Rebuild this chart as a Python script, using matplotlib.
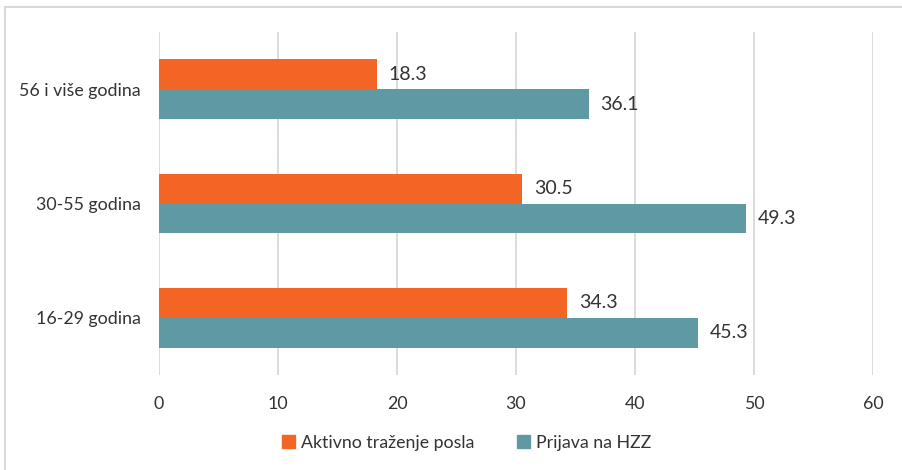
import numpy as np
import matplotlib.pyplot as plt
from matplotlib.lines import Line2D
from matplotlib.patches import Patch

plt.rcParams['font.family'] = ['Lato', 'DejaVu Sans']

# Data
categories = ['16-29 godina', '30-55 godina', '56 i više godina']
aktivno = [34.3, 30.5, 18.3]
prijava = [45.3, 49.3, 36.1]
series_names = ['Aktivno traženje posla', 'Prijava na HZZ']

c_orange = '#F26524'
c_teal = '#5F9AA4'
txt = '#333333'

fig = plt.figure(figsize=(9.03, 4.70), dpi=100)
ax = fig.add_axes([0.176, 0.202, 0.7908, 0.730])

y = np.arange(len(categories))
h = 0.262
b1 = ax.barh(y + h / 2, aktivno, height=h, color=c_orange, zorder=3)
b2 = ax.barh(y - h / 2, prijava, height=h, color=c_teal, zorder=3)

for bars, vals in ((b1, aktivno), (b2, prijava)):
    for bar, v in zip(bars, vals):
        ax.text(v + 1.0, bar.get_y() + bar.get_height() / 2, f'{v:.1f}',
                va='center', ha='left', fontsize=14, color=txt)

ax.set_xlim(0, 60)
ax.set_ylim(-0.5, 2.5)
ax.set_xticks(np.arange(0, 61, 10))
ax.set_yticks(y)
ax.set_yticklabels(categories)
ax.tick_params(axis='both', length=0, labelsize=12.8, colors=txt)
ax.tick_params(axis='x', pad=15)
ax.tick_params(axis='y', pad=13)
ax.grid(axis='x', color='#D9D9D9', linewidth=1.3, zorder=0)
for s in ax.spines.values():
    s.set_visible(False)

handles = [Patch(color=c_orange), Patch(color=c_teal)]
fig.legend(handles, series_names, loc='center', bbox_to_anchor=(0.517, 0.058),
           ncol=2, frameon=False, fontsize=12.8, handlelength=0.7,
           handleheight=0.7, handletextpad=0.35, columnspacing=2.4,
           labelcolor=txt)

# frame lines at top and left
fig.add_artist(Line2D([0.0055, 0.0055], [0, 0.985], transform=fig.transFigure,
                      color='#D9D9D9', linewidth=1.5))
fig.add_artist(Line2D([0.0055, 1.0], [0.985, 0.985], transform=fig.transFigure,
                      color='#D9D9D9', linewidth=1.5))

fig.savefig('out.png', dpi=100)
